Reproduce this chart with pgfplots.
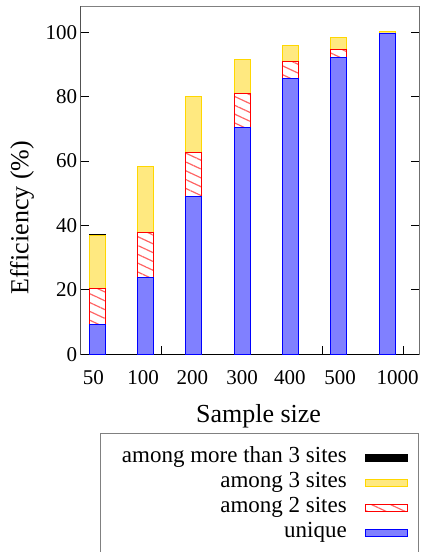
\documentclass[border=0pt]{standalone}
\usepackage{fontspec}
\setmainfont{Liberation Serif}
\usepackage{pgfplots}
\pgfplotsset{compat=1.18}
\usetikzlibrary{patterns.meta}
\definecolor{bluefill}{RGB}{128,128,255}
\definecolor{blueedge}{RGB}{0,0,255}
\definecolor{yelfill}{RGB}{255,233,128}
\definecolor{yeledge}{RGB}{255,215,0}
\definecolor{redhatch}{RGB}{255,100,100}
\definecolor{redge}{RGB}{255,0,0}
\definecolor{framegray}{RGB}{128,128,128}
\pgfplotsset{
  mylegend/.style={legend image code/.code={\draw[##1,line width=1bp] (0bp,-3.5bp) rectangle (42bp,3.5bp);}}
}
\begin{document}
\begin{tikzpicture}[x=1bp,y=1bp]
\begin{axis}[
  at={(80.7bp,197.7bp)}, anchor=south west,
  scale only axis, width=338.3bp, height=347.8bp,
  ybar stacked, bar width=16bp,
  xmin=-0.34, xmax=6.66, ymin=0, ymax=108,
  ytick={0,20,...,100},
  xtick={-0.08,0.95,1.97,3.0,3.99,5.03,6.22},
  xticklabels={50,100,200,300,400,500,1000},
  x tick style={draw=none},
  extra x ticks={1.333,4.667,6.333},
  extra x tick labels={},
  extra x tick style={x tick style={draw=black, line width=0.8bp}, xtick pos=left, major tick length=8bp},
  y tick style={black, line width=0.8bp},
  major tick length=8.5bp,
  tick align=inside,
  axis line style={framegray, line width=0.8bp},
  /pgf/number format/assume math mode=true,
  tick label style={font=\fontsize{21bp}{25bp}\selectfont},
  xticklabel style={yshift=-13bp},
  label style={font=\fontsize{26bp}{30bp}\selectfont},
  xlabel={Sample size},
  ylabel={Efficiency (\%)},
  xlabel style={at={(axis description cs:0.5256,-0.195)}, anchor=base},
  ylabel style={at={(axis description cs:-0.1735,0.393)}, anchor=center},
  legend plot pos=right,
  legend cell align=right,
  reverse legend,
  legend style={at={(axis description cs:0.9675,-0.265)}, anchor=north east,
    draw=none, fill=none, inner sep=0pt, row sep=3bp, column sep=18bp,
    font=\fontsize{23bp}{26bp}\selectfont,
    nodes={inner sep=0pt, text height=16bp, text depth=6bp}},
]
\addplot[fill=bluefill, draw=blueedge, line width=1bp, mylegend] coordinates {
 (0,9.3) (1,23.8) (2,49.1) (3,70.5) (4,85.6) (5,92.1) (6,99.6)};
\addlegendentry{unique}
\addplot[pattern={Lines[angle=-25,distance=8bp,line width=1.2bp]}, pattern color=redhatch, draw=redge, line width=1bp, mylegend] coordinates {
 (0,11.0) (1,14.0) (2,13.7) (3,10.5) (4,5.3) (5,2.6) (6,0.1)};
\addlegendentry{among 2 sites}
\addplot[fill=yelfill, draw=yeledge, line width=1bp, mylegend] coordinates {
 (0,16.7) (1,20.5) (2,17.4) (3,10.5) (4,5.0) (5,3.8) (6,0.4)};
\addlegendentry{among 3 sites}
\addplot[fill=black, draw=black, line width=0.5bp, mylegend] coordinates {
 (0,0.3)};
\addlegendentry{among more than 3 sites}
\draw[black, line width=0.8bp] (rel axis cs:0,1) -- (rel axis cs:0,0) -- (rel axis cs:1,0) -- (rel axis cs:1,1);
\end{axis}
\draw[framegray, line width=1bp] (100,118) rectangle (418,-20);
\pgfresetboundingbox
\useasboundingbox (0,0) rectangle (423,552);
\end{tikzpicture}
\end{document}
